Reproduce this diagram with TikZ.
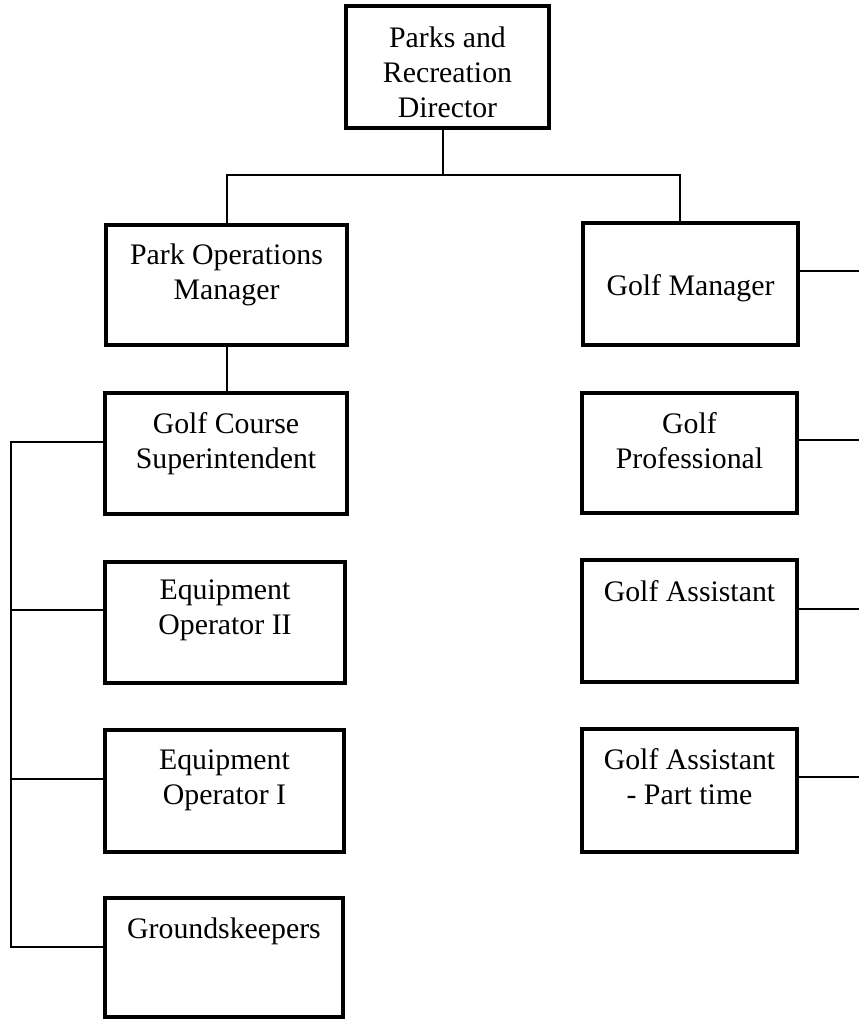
\documentclass[tikz,border=0pt]{standalone}
\usepackage{fontspec}
\setmainfont{Liberation Serif}
\begin{document}
\begin{tikzpicture}[x=1pt,y=-1pt,
  box/.style={draw,line width=3.2pt,inner sep=0pt},
  lbl/.style={anchor=north,align=center,inner sep=0pt,font=\fontsize{29.8}{35}\selectfont},
  conn/.style={line width=2pt}]
\useasboundingbox (0,0) rectangle (859,1022);
% boxes
\node[box,minimum width=203pt,minimum height=122pt] (dir) at (447.5,67) {};
\node[box,minimum width=241pt,minimum height=120pt] (pom) at (226.5,285) {};
\node[box,minimum width=215pt,minimum height=122pt] (gm) at (690.5,284) {};
\node[box,minimum width=242pt,minimum height=121pt] (gcs) at (226,453.5) {};
\node[box,minimum width=215pt,minimum height=120pt] (gp) at (689.5,453) {};
\node[box,minimum width=240pt,minimum height=121pt] (eo2) at (225,622.5) {};
\node[box,minimum width=215pt,minimum height=122pt] (ga) at (689.5,621) {};
\node[box,minimum width=239pt,minimum height=122pt] (eo1) at (224.5,791) {};
\node[box,minimum width=215pt,minimum height=123pt] (gapt) at (689.5,790.5) {};
\node[box,minimum width=238pt,minimum height=119pt] (gk) at (224,957.5) {};
% texts
\node[lbl] (dirt) at (447.5,27) {Parks and\\Recreation\\Director};
\node[lbl] (pomt) at (226.5,244) {Park Operations\\Manager};
\node[lbl] (gmt) at (690.5,274) {Golf Manager};
\node[lbl] (gcst) at (226,412) {Golf Course\\Superintendent};
\node[lbl] (gpt) at (689.5,412) {Golf\\Professional};
\node[lbl] (eo2t) at (225,580) {Equipment\\Operator II};
\node[lbl] (gat) at (689.5,580) {Golf Assistant};
\node[lbl] (eo1t) at (224.5,750) {Equipment\\Operator I};
\node[lbl] (gaptt) at (689.5,748) {Golf Assistant\\- Part time};
\node[lbl] (gkt) at (224,918) {Groundskeepers};
% connectors top
\coordinate (j) at (443,175);
\coordinate (gmj) at (680,175);
\draw[conn] (dir.south -| j) -- (j);
\draw[conn] (pom.north) |- (j) -- (gmj) -- (gmj |- gm.north);
\draw[conn] (pom.south) -- (pom.south |- gcs.north);
% left bus
\coordinate (l1) at (11,442);
\coordinate (l2) at (11,610);
\coordinate (l3) at (11,779);
\coordinate (l4) at (11,947);
\draw[conn] (l1 -| gcs.west) -- (l1) -- (l4) -- (l4 -| gk.west);
\draw[conn] (l2) -- (l2 -| eo2.west);
\draw[conn] (l3) -- (l3 -| eo1.west);
% right stubs
\coordinate (r1) at (859,271);
\coordinate (r2) at (859,440);
\coordinate (r3) at (859,609);
\coordinate (r4) at (859,777);
\draw[conn] (r1 -| gm.east) -- (r1);
\draw[conn] (r2 -| gp.east) -- (r2);
\draw[conn] (r3 -| ga.east) -- (r3);
\draw[conn] (r4 -| gapt.east) -- (r4);
\end{tikzpicture}
\end{document}
